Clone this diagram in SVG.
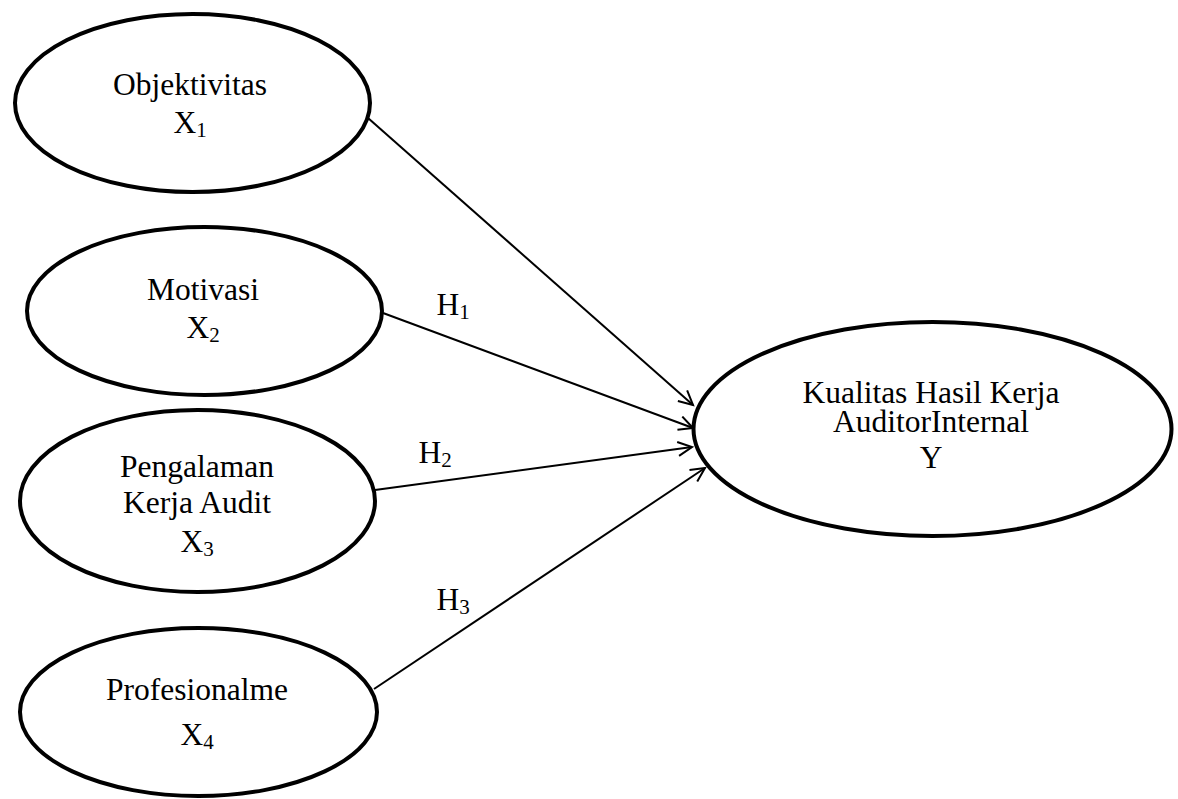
<svg xmlns="http://www.w3.org/2000/svg" width="1178" height="799" viewBox="0 0 1178 799">
<style>
.node ellipse{fill:#fff;stroke:#000;stroke-width:4}
text{font-family:"Liberation Serif","Times New Roman",serif;font-size:31.5px;fill:#000;text-anchor:middle}
.sub{font-size:21px}
.edge{stroke:#000;stroke-width:2;fill:none;marker-end:url(#arr)}
</style>
<defs>
<marker id="arr" markerUnits="userSpaceOnUse" markerWidth="20" markerHeight="20" refX="15" refY="8" orient="auto">
<path d="M1,1 L15,8 L1,15" fill="none" stroke="#000" stroke-width="2"/>
</marker>
</defs>
<g id="connectors">
<line class="edge" x1="368" y1="118" x2="693" y2="405"/>
<line class="edge" x1="383" y1="313" x2="693" y2="428"/>
<line class="edge" x1="375" y1="490" x2="692" y2="447"/>
<line class="edge" x1="374" y1="689" x2="705" y2="468"/>
<text x="453" y="315">H<tspan class="sub" dy="4">1</tspan></text>
<text x="435" y="463">H<tspan class="sub" dy="4">2</tspan></text>
<text x="453" y="610">H<tspan class="sub" dy="4">3</tspan></text>
</g>
<g id="x1" class="node">
<ellipse cx="192.5" cy="103" rx="177.5" ry="89"/>
<text x="190" y="95">Objektivitas</text>
<text x="190" y="133">X<tspan class="sub" dy="4">1</tspan></text>
</g>
<g id="x2" class="node">
<ellipse cx="204.5" cy="311" rx="177.5" ry="84"/>
<text x="203" y="300">Motivasi</text>
<text x="203" y="338">X<tspan class="sub" dy="4">2</tspan></text>
</g>
<g id="x3" class="node">
<ellipse cx="197.5" cy="501" rx="177.5" ry="91"/>
<text x="197" y="477">Pengalaman</text>
<text x="197" y="513">Kerja Audit</text>
<text x="197" y="552">X<tspan class="sub" dy="4">3</tspan></text>
</g>
<g id="x4" class="node">
<ellipse cx="198.5" cy="712" rx="178.5" ry="84"/>
<text x="197" y="700">Profesionalme</text>
<text x="197" y="745">X<tspan class="sub" dy="4">4</tspan></text>
</g>
<g id="y" class="node">
<ellipse cx="932.5" cy="429" rx="239" ry="107"/>
<text x="931" y="403">Kualitas Hasil Kerja</text>
<text x="931" y="432">AuditorInternal</text>
<text x="931" y="468">Y</text>
</g>
</svg>
